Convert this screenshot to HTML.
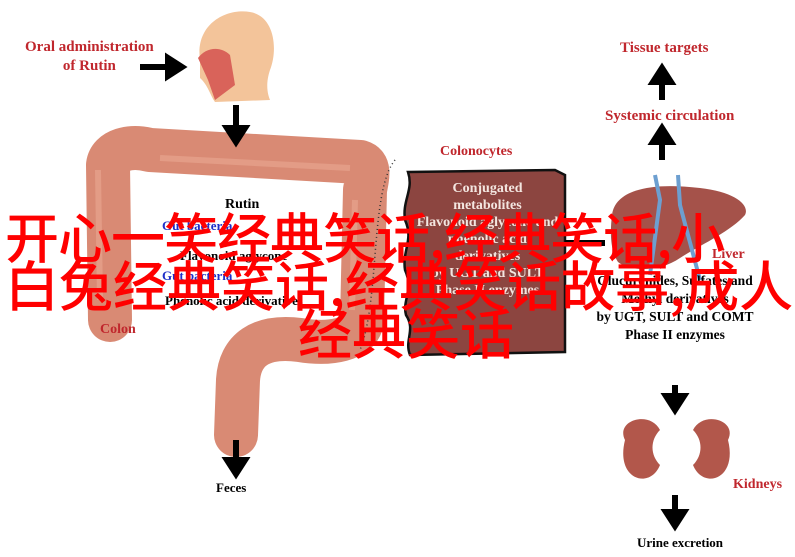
<!DOCTYPE html>
<html><head><meta charset="utf-8"><style>
html,body{margin:0;padding:0;background:#fff;}
#c{position:relative;width:795px;height:557px;overflow:hidden;font-family:"Liberation Serif",serif;}
.t{position:absolute;font-weight:bold;white-space:nowrap;}
.red{color:#c0272d;}
.ov{position:absolute;color:#ff0000;font-family:"Noto Sans CJK SC",sans-serif;font-size:54px;line-height:1;white-space:nowrap;font-weight:500;}
</style></head><body><div id="c">
<svg width="795" height="557" style="position:absolute;left:0;top:0">
<path d="M200,60 C195,25 225,8 250,12 C275,16 278,50 270,70 C265,85 268,95 270,100 L215,102 C210,95 208,85 200,78 Z" fill="#f3c49a"/>
<path d="M198,58 C205,48 220,45 230,55 L235,85 L215,100 L208,80 Z" fill="#d9635a"/>
<g fill="none" stroke="#d98a74" stroke-linecap="round" stroke-linejoin="round">
<path d="M110,320 L108,165 C110,150 130,145 150,150 L360,162 C370,165 368,175 365,190 L362,320 C360,340 330,345 300,340 C260,335 240,350 238,380 L236,435" stroke-width="44"/>
</g>
<g fill="none" stroke="#e9a892" stroke-width="6" opacity=".6">
<path d="M100,300 L98,170 M160,158 L350,168 M355,200 L352,310"/>
</g>
<path d="M395,160 C370,190 380,300 360,350" fill="none" stroke="#333" stroke-width="1.5" stroke-dasharray="1,3"/>
<path d="M408,172 L555,170 L565,175 L565,352 L410,355 C404,340 416,330 406,315 C402,300 414,290 405,270 C402,250 414,240 405,220 C402,200 414,190 408,172 Z" fill="#8c4540" stroke="#111" stroke-width="2.5"/>
<path d="M612,215 C615,190 650,182 700,188 C735,192 750,205 745,215 C730,232 700,245 680,258 C660,272 630,272 618,262 C610,250 610,232 612,215 Z" fill="#a5524a"/>
<path d="M655,175 L660,200 L650,275 M678,175 L680,205 L700,280" stroke="#6d9fd0" stroke-width="4" fill="none"/>
<path d="M625,440 C615,420 650,410 660,430 C650,440 650,455 660,465 C650,490 615,480 625,440 Z" fill="#b2574b"/>
<path d="M728,440 C738,420 703,410 693,430 C703,440 703,455 693,465 C703,490 738,480 728,440 Z" fill="#b2574b"/>
<g stroke="#000" stroke-width="6" fill="#000">
<line x1="140" y1="67" x2="170" y2="67"/><path d="M168,58 L182,67 L168,76 Z"/>
<line x1="236" y1="105" x2="236" y2="130"/><path d="M227,128 L236,142 L245,128 Z"/>
<line x1="236" y1="440" x2="236" y2="462"/><path d="M227,460 L236,474 L245,460 Z"/>
<line x1="662" y1="160" x2="662" y2="140"/><path d="M653,142 L662,128 L671,142 Z"/>
<line x1="662" y1="100" x2="662" y2="80"/><path d="M653,82 L662,68 L671,82 Z"/>
<line x1="675" y1="385" x2="675" y2="398"/><path d="M666,396 L675,410 L684,396 Z"/>
<line x1="675" y1="495" x2="675" y2="515"/><path d="M666,512 L675,526 L684,512 Z"/>
<line x1="565" y1="243" x2="605" y2="243"/>
</g>
</svg>
<div class="t red" style="left:25px;top:38px;font-size:15px;line-height:19px;text-align:center;">Oral administration<br>of Rutin</div>
<div class="t red" style="left:620px;top:40px;font-size:15px;">Tissue targets</div>
<div class="t red" style="left:605px;top:108px;font-size:15px;">Systemic circulation</div>
<div class="t red" style="left:440px;top:144px;font-size:14px;">Colonocytes</div>
<div class="t" style="left:410px;top:180px;width:155px;text-align:center;color:#f3e6e0;font-size:14px;line-height:17px;">Conjugated<br>metabolites<br>Flavonoid aglycone and<br>phenolic acid<br>derivatives<br>by UGT and SULT<br>Phase II enzymes</div>
<div class="t" style="left:225px;top:197px;font-size:14px;">Rutin</div>
<div class="t" style="left:162px;top:218px;font-size:13px;color:#1f2fc8;">Gut bacteria</div>
<div class="t" style="left:180px;top:248px;font-size:13px;">Flavonoid aglycone</div>
<div class="t" style="left:162px;top:268px;font-size:13px;color:#1f2fc8;">Gut bacteria</div>
<div class="t" style="left:165px;top:293px;font-size:13px;">Phenolic acid derivatives</div>
<div class="t red" style="left:100px;top:322px;font-size:14px;">Colon</div>
<div class="t red" style="left:712px;top:247px;font-size:14px;">Liver</div>
<div class="t" style="left:590px;top:272px;width:170px;text-align:center;font-size:13.5px;line-height:18px;">Glucuronides, Sulfates and<br>Methyl derivatives<br>by UGT, SULT and COMT<br>Phase II enzymes</div>
<div class="t" style="left:216px;top:480px;font-size:13px;">Feces</div>
<div class="t red" style="left:733px;top:477px;font-size:14px;">Kidneys</div>
<div class="t" style="left:637px;top:535px;font-size:13px;">Urine excretion</div>
<div class="ov" style="left:5px;top:208px;letter-spacing:-1px;">开心一笑经典笑话,经典笑话,小</div>
<div class="ov" style="left:5px;top:256px;">白兔经典笑话,经典笑话故事,成人</div>
<div class="ov" style="left:298px;top:304px;">经典笑话</div>
</div></body></html>
